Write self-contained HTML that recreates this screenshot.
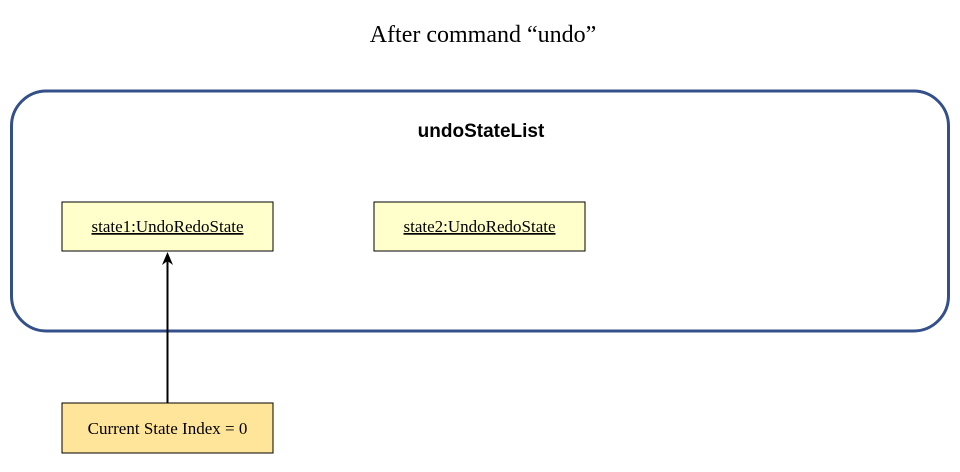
<!DOCTYPE html>
<html><head><style>body{margin:0;background:#fff}</style></head><body>
<svg width="960" height="467" xmlns="http://www.w3.org/2000/svg">
<rect width="960" height="467" fill="#fff"/>
<text x="483" y="42" text-anchor="middle" font-family="Liberation Serif, serif" font-size="24">After command “undo”</text>
<rect x="11.5" y="91" width="937" height="240" rx="35" fill="none" stroke="#34508a" stroke-width="3"/>
<text x="481" y="137" text-anchor="middle" font-family="Liberation Sans, sans-serif" font-size="19" font-weight="bold">undoStateList</text>
<rect x="62" y="202" width="211" height="49" fill="#ffffcc" stroke="#000"/>
<text x="167.5" y="232" text-anchor="middle" font-family="Liberation Serif, serif" font-size="17" text-decoration="underline">state1:UndoRedoState</text>
<rect x="374" y="202" width="211" height="49" fill="#ffffcc" stroke="#000"/>
<text x="479.5" y="232" text-anchor="middle" font-family="Liberation Serif, serif" font-size="17" text-decoration="underline">state2:UndoRedoState</text>
<line x1="167.5" y1="403" x2="167.5" y2="258" stroke="#000" stroke-width="2"/>
<path d="M167.5 252 L162 265 L167.5 261 L173 265 Z" fill="#000"/>
<rect x="62" y="403" width="211" height="50" fill="#ffe599" stroke="#000"/>
<text x="167.5" y="434" text-anchor="middle" font-family="Liberation Serif, serif" font-size="17">Current State Index = 0</text>
</svg>
</body></html>
